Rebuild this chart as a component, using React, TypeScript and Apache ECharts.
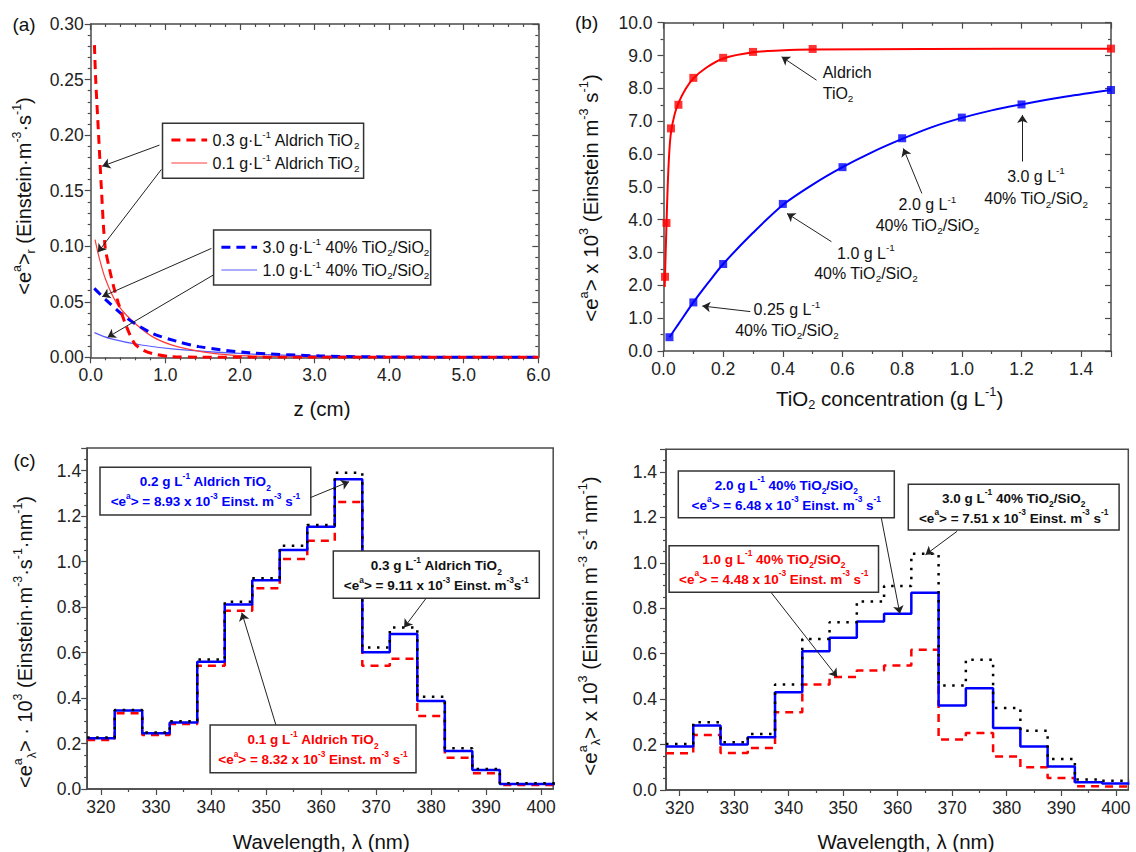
import React, { useEffect, useRef } from "react";
import * as echarts from "echarts";

const FONT = "'Liberation Sans', Arial, Helvetica, sans-serif";

// ---------- Panel (a): local absorbed radiation vs depth z ----------
const zRed03 = [0.05, 0.067, 0.106, 0.144, 0.192, 0.25, 0.31, 0.37, 0.466, 0.586, 0.7, 0.826, 1.066, 1.45, 2, 3, 4, 5, 6];
const eRed03 = [0.281, 0.25, 0.2, 0.151, 0.1, 0.08, 0.063, 0.049, 0.03, 0.0126, 0.0065, 0.0033, 0.0006, 0.0001, 0, 0, 0, 0, 0];
const zRed01 = [0.058, 0.12, 0.2, 0.346, 0.538, 0.826, 1.16, 1.64, 2.12, 2.84, 4, 5, 6];
const eRed01 = [0.106, 0.088, 0.07, 0.049, 0.034, 0.0186, 0.0096, 0.0036, 0.0012, 0.0002, 0, 0, 0];
const zBlue30 = [0.048, 0.2, 0.49, 0.826, 1.15, 1.45, 2.12, 3.08, 4.04, 5, 6];
const eBlue30 = [0.062, 0.052, 0.035, 0.0216, 0.0145, 0.0096, 0.0042, 0.0012, 0.0003, 0.0001, 0];
const zBlue10 = [0.05, 0.25, 0.68, 1.16, 2.12, 3.08, 4.52, 6];
const eBlue10 = [0.0222, 0.0171, 0.0111, 0.0072, 0.003, 0.0012, 0.0003, 0];

// ---------- Panel (b): volumetric rate vs catalyst concentration ----------
const aldrichConc = [0.005, 0.01, 0.025, 0.05, 0.1, 0.2, 0.3, 0.5, 1.5];
const aldrichRate = [2.26, 3.9, 6.78, 7.5, 8.32, 8.93, 9.11, 9.2, 9.21];
const aldrichFitConc = [0.004, 0.006, 0.01, 0.014, 0.019, 0.025, 0.037, 0.05, 0.074, 0.1, 0.142, 0.2, 0.3, 0.39, 0.5, 0.88, 1.5];
const aldrichFitRate = [1.95, 2.6, 3.85, 5.0, 6.0, 6.65, 7.2, 7.55, 7.98, 8.3, 8.62, 8.91, 9.1, 9.15, 9.18, 9.2, 9.21];
const silicaConc = [0.02, 0.1, 0.2, 0.4, 0.6, 0.8, 1.0, 1.2, 1.5];
const silicaRate = [0.42, 1.48, 2.65, 4.48, 5.6, 6.48, 7.11, 7.51, 7.95];
const silicaFitConc = [0.02, 0.05, 0.1, 0.15, 0.2, 0.3, 0.4, 0.5, 0.6, 0.7, 0.8, 0.9, 1.0, 1.1, 1.2, 1.35, 1.5];
const silicaFitRate = [0.42, 0.82, 1.48, 2.08, 2.65, 3.6, 4.45, 5.07, 5.6, 6.06, 6.46, 6.82, 7.1, 7.33, 7.51, 7.75, 7.95];

// ---------- Panels (c), (d): spectral rates, 5 nm bins ----------
const lamCenters = [320, 325, 330, 335, 340, 345, 350, 355, 360, 365, 370, 375, 380, 385, 390, 395, 400];
const lamTicks = [320, 330, 340, 350, 360, 370, 380, 390, 400];
const lamMinorTicks = [325, 335, 345, 355, 365, 375, 385, 395];
const cAld02 = [0.223, 0.345, 0.245, 0.293, 0.56, 0.812, 0.918, 1.051, 1.154, 1.362, 0.601, 0.682, 0.387, 0.167, 0.084, 0.022, 0.022];
const cAld03 = [0.226, 0.347, 0.249, 0.298, 0.57, 0.824, 0.927, 1.07, 1.161, 1.391, 0.622, 0.71, 0.406, 0.179, 0.088, 0.025, 0.025];
const cAld01 = [0.216, 0.333, 0.238, 0.286, 0.542, 0.784, 0.883, 1.012, 1.092, 1.262, 0.542, 0.573, 0.321, 0.138, 0.069, 0.018, 0.018];
const dSil20 = [0.192, 0.284, 0.2, 0.232, 0.43, 0.611, 0.67, 0.742, 0.776, 0.868, 0.372, 0.448, 0.273, 0.192, 0.103, 0.034, 0.029];
const dSil30 = [0.203, 0.298, 0.21, 0.247, 0.464, 0.665, 0.739, 0.83, 0.898, 1.04, 0.46, 0.574, 0.361, 0.261, 0.137, 0.046, 0.041];
const dSil10 = [0.162, 0.242, 0.163, 0.185, 0.342, 0.464, 0.497, 0.526, 0.548, 0.617, 0.222, 0.251, 0.148, 0.1, 0.053, 0.016, 0.015];

const zip = (xs: number[], ys: number[]) => xs.map((x, i) => [x, ys[i]]);
const stepData = (vals: number[]) => {
  const d = lamCenters.map((c, i) => [c - 2.5, vals[i]]);
  d.push([lamCenters[lamCenters.length - 1] + 2.5, vals[vals.length - 1]]);
  return d;
};

const RED = "#ff0000";
const BLUE = "#0000ff";
const AX = { color: "#4a4a4a", width: 1.5 };
const TK = { color: "#4a4a4a", width: 1.2 };
const LBL = { fontSize: 17.5, color: "#222", fontFamily: FONT };
const SMOOTH = 0.3;

function valueAxis(o: any) {
  return {
    type: "value",
    gridIndex: o.grid,
    position: o.pos,
    min: o.min,
    max: o.max,
    interval: o.interval,
    axisLine: { show: true, onZero: false, lineStyle: AX },
    axisTick: { show: true, inside: o.inside, length: 6, lineStyle: TK },
    minorTick: { show: true, splitNumber: o.minor, length: 3, lineStyle: TK },
    axisLabel: {
      show: o.labels,
      ...LBL,
      margin: o.margin,
      formatter: o.fmt,
      showMaxLabel: o.hideMax ? false : null,
    },
    splitLine: { show: false },
    minorSplitLine: { show: false },
  };
}

function lamAxes(grid: number, min: number, max: number, h: number) {
  return [
    {
      type: "value",
      gridIndex: grid,
      position: "bottom",
      min,
      max,
      axisLine: { show: true, onZero: false, lineStyle: AX },
      axisTick: { show: true, inside: false, length: 6, lineStyle: TK, customValues: lamTicks },
      axisLabel: { ...LBL, margin: 9, customValues: lamTicks, formatter: (v: number) => String(Math.round(v)) },
      splitLine: { show: false },
    },
    {
      type: "value",
      gridIndex: grid,
      position: "top",
      offset: -h,
      min,
      max,
      axisLine: { show: false },
      axisTick: { show: true, inside: true, length: 3, lineStyle: TK, customValues: lamMinorTicks },
      axisLabel: { show: false },
      splitLine: { show: false },
    },
  ];
}

function rich(fs: number, color: string, weight = "normal", lh = fs * 1.3) {
  const base = { fontSize: fs, fontFamily: FONT, fontWeight: weight, fill: color };
  return {
    n: { ...base, lineHeight: lh, verticalAlign: "middle" },
    sup: { ...base, fontSize: fs * 0.62, lineHeight: fs * 0.55, verticalAlign: "top" },
    sub: { ...base, fontSize: fs * 0.62, lineHeight: fs * 0.55, verticalAlign: "bottom" },
  };
}

function txt(x: number, y: number, text: string, fs: number, color = "#111", opts: any = {}) {
  return {
    type: "text",
    x,
    y,
    z: 60,
    rotation: opts.rotation || 0,
    style: {
      text,
      rich: rich(fs, color, opts.weight || "normal", opts.lh),
      fill: color,
      fontSize: fs,
      fontFamily: FONT,
      align: opts.align || "center",
      verticalAlign: "middle",
    },
  };
}

function box(x: number, y: number, w: number, h: number) {
  return {
    type: "rect",
    z: 55,
    shape: { x, y, width: w, height: h },
    style: { fill: "#fff", stroke: "#333", lineWidth: 1.5 },
  };
}

function sample(x1: number, x2: number, y: number, color: string, width: number, dash: any) {
  return {
    type: "line",
    z: 60,
    shape: { x1, y1: y, x2, y2: y },
    style: { stroke: color, lineWidth: width, lineDash: dash },
  };
}

function arrows(list: number[][]) {
  return {
    silent: true,
    symbol: ["none", "arrow"],
    symbolSize: 8,
    label: { show: false },
    lineStyle: { color: "#222", width: 1, type: "solid" },
    emphasis: { disabled: true },
    data: list.map((a) => [{ coord: [a[0], a[1]] }, { coord: [a[2], a[3]] }]),
  };
}

const f1 = (v: number) => v.toFixed(1);
const f2 = (v: number) => v.toFixed(2);

export default function App() {
  const ref = useRef<HTMLDivElement>(null);
  useEffect(() => {
    if (!ref.current) return;
    const chart = echarts.init(ref.current, undefined, { renderer: "svg" });

    const gA = { left: 90.7, top: 24, width: 447.6, height: 333.3 };
    const gB = { left: 663.5, top: 22.7, width: 447.5, height: 328.3 };
    const gC = { left: 87.2, top: 448, width: 466, height: 341 };
    const gD = { left: 666, top: 449.3, width: 462.3, height: 340.7 };

    const option: any = {
      animation: false,
      backgroundColor: "#fff",
      textStyle: { fontFamily: FONT },
      grid: [
        { ...gA, show: false },
        { ...gB, show: false },
        { ...gC, show: true, borderColor: "#4a4a4a", borderWidth: 1.5, backgroundColor: "transparent" },
        { ...gD, show: true, borderColor: "#4a4a4a", borderWidth: 1.5, backgroundColor: "transparent" },
      ],
      xAxis: [
        valueAxis({ grid: 0, pos: "bottom", min: 0, max: 6, interval: 1, minor: 5, inside: false, labels: true, margin: 9, fmt: f1 }),
        valueAxis({ grid: 0, pos: "top", min: 0, max: 6, interval: 1, minor: 5, inside: true, labels: false, margin: 8, fmt: f1 }),
        valueAxis({ grid: 1, pos: "bottom", min: 0, max: 1.5, interval: 0.2, minor: 2, inside: false, labels: true, margin: 9, fmt: f1, hideMax: true }),
        valueAxis({ grid: 1, pos: "top", min: 0, max: 1.5, interval: 0.2, minor: 2, inside: true, labels: false, margin: 8, fmt: f1 }),
        ...lamAxes(2, 317.5, 402.2, gC.height),
        ...lamAxes(3, 317.5, 402.3, gD.height),
      ],
      yAxis: [
        valueAxis({ grid: 0, pos: "left", min: 0, max: 0.3, interval: 0.05, minor: 5, inside: false, labels: true, margin: 7, fmt: f2 }),
        valueAxis({ grid: 0, pos: "right", min: 0, max: 0.3, interval: 0.05, minor: 5, inside: true, labels: false, margin: 8, fmt: f2 }),
        valueAxis({ grid: 1, pos: "left", min: 0, max: 10, interval: 1, minor: 2, inside: false, labels: true, margin: 11, fmt: f1 }),
        valueAxis({ grid: 1, pos: "right", min: 0, max: 10, interval: 1, minor: 2, inside: true, labels: false, margin: 8, fmt: f1 }),
        valueAxis({ grid: 2, pos: "left", min: 0, max: 1.5, interval: 0.2, minor: 4, inside: false, labels: true, margin: 6, fmt: f1, hideMax: true }),
        valueAxis({ grid: 3, pos: "left", min: 0, max: 1.5, interval: 0.2, minor: 4, inside: false, labels: true, margin: 9, fmt: f1, hideMax: true }),
      ],
      series: [
        // ---- (a)
        {
          type: "line", xAxisIndex: 0, yAxisIndex: 0, data: zip(zBlue10, eBlue10), symbol: "none",
          smooth: SMOOTH, lineStyle: { color: "#5a5aff", width: 1.2 },
        },
        {
          type: "line", xAxisIndex: 0, yAxisIndex: 0, data: zip(zRed01, eRed01), symbol: "none",
          smooth: SMOOTH, lineStyle: { color: "#ff3b3b", width: 1.2 },
        },
        {
          type: "line", xAxisIndex: 0, yAxisIndex: 0, data: zip(zBlue30, eBlue30), symbol: "none",
          smooth: SMOOTH, lineStyle: { color: BLUE, width: 3, type: [9, 6] },
        },
        {
          type: "line", xAxisIndex: 0, yAxisIndex: 0, data: zip(zRed03, eRed03), symbol: "none",
          smooth: SMOOTH, lineStyle: { color: RED, width: 3, type: [9, 6] },
          markLine: arrows([
            [0.922, 0.191, 0.154, 0.172],
            [0.946, 0.169, 0.096, 0.0945],
            [1.618, 0.098, 0.154, 0.0546],
            [1.642, 0.074, 0.226, 0.018],
          ]),
        },
        // ---- (b)
        {
          type: "line", xAxisIndex: 2, yAxisIndex: 2, data: zip(aldrichFitConc, aldrichFitRate), symbol: "none",
          smooth: SMOOTH, lineStyle: { color: RED, width: 2 },
        },
        {
          type: "scatter", xAxisIndex: 2, yAxisIndex: 2, data: zip(aldrichConc, aldrichRate),
          symbol: "rect", symbolSize: 8, itemStyle: { color: RED }, z: 3,
        },
        {
          type: "line", xAxisIndex: 2, yAxisIndex: 2, data: zip(silicaFitConc, silicaFitRate), symbol: "none",
          smooth: SMOOTH, lineStyle: { color: BLUE, width: 2 },
          markLine: arrows([
            [0.513, 8.25, 0.396, 8.96],
            [1.203, 5.77, 1.203, 7.19],
            [0.866, 4.8, 0.804, 6.17],
            [0.563, 3.33, 0.414, 4.19],
            [0.291, 1.2, 0.13, 1.37],
          ]),
        },
        {
          type: "scatter", xAxisIndex: 2, yAxisIndex: 2, data: zip(silicaConc, silicaRate),
          symbol: "rect", symbolSize: 8, itemStyle: { color: BLUE }, z: 3,
        },
        // ---- (c)
        {
          type: "line", xAxisIndex: 4, yAxisIndex: 4, data: stepData(cAld01), step: "end", symbol: "none",
          lineStyle: { color: RED, width: 2.5, type: [8, 6] },
        },
        {
          type: "line", xAxisIndex: 4, yAxisIndex: 4, data: stepData(cAld02), step: "end", symbol: "none",
          lineStyle: { color: BLUE, width: 2.5 },
        },
        {
          type: "line", xAxisIndex: 4, yAxisIndex: 4, data: stepData(cAld03), step: "end", symbol: "none",
          lineStyle: { color: "#000", width: 2.5, type: [2.5, 6.5] },
          markLine: arrows([
            [357.8, 1.279, 365.1, 1.352],
            [379.1, 0.839, 375.1, 0.71],
            [351.8, 0.2815, 345.6, 0.7755],
          ]),
        },
        // ---- (d)
        {
          type: "line", xAxisIndex: 6, yAxisIndex: 5, data: stepData(dSil10), step: "end", symbol: "none",
          lineStyle: { color: RED, width: 2.5, type: [8, 6] },
        },
        {
          type: "line", xAxisIndex: 6, yAxisIndex: 5, data: stepData(dSil20), step: "end", symbol: "none",
          lineStyle: { color: BLUE, width: 2.5 },
        },
        {
          type: "line", xAxisIndex: 6, yAxisIndex: 5, data: stepData(dSil30), step: "end", symbol: "none",
          lineStyle: { color: "#000", width: 2.5, type: [2.5, 6.5] },
          markLine: arrows([
            [357.0, 1.197, 360.4, 0.776],
            [370.9, 1.139, 365.1, 1.036],
            [336.8, 0.869, 348.9, 0.498],
          ]),
        },
      ],
      graphic: [
        // panel letters
        txt(24, 24.5, "{n|(a)}", 19),
        txt(586.6, 22.5, "{n|(b)}", 19),
        txt(24.5, 460, "{n|(c)}", 19),
        // axis titles
        txt(322, 408, "{n|z (cm)}", 20.5),
        txt(24, 196, "{n|<e}{sup|a}{n|>}{sub|r}{n| (Einstein·m}{sup|-3}{n|·s}{sup|-1}{n|)}", 20, "#111", { rotation: Math.PI / 2 }),
        txt(889.6, 398, "{n|TiO}{sub|2}{n| concentration (g L}{sup|-1}{n|)}", 20.5),
        txt(590, 198, "{n|<e}{sup|a}{n|> x 10}{sup|3}{n| (Einstein m}{sup|-3}{n| s}{sup|-1}{n|)}", 20.5, "#111", { rotation: Math.PI / 2 }),
        txt(321.3, 841.7, "{n|Wavelength, λ (nm)}", 20.5),
        txt(25, 642, "{n|<e}{sup|a}{sub|λ}{n|> · 10}{sup|3}{n| (Einstein·m}{sup|-3}{n|·s}{sup|-1}{n|·nm}{sup|-1}{n|)}", 20, "#111", { rotation: Math.PI / 2 }),
        txt(906, 841.7, "{n|Wavelength, λ (nm)}", 20.5),
        txt(589, 626, "{n|<e}{sup|a}{sub|λ}{n|> x 10}{sup|3}{n| (Einstein m}{sup|-3}{n| s}{sup|-1}{n| nm}{sup|-1}{n|)}", 20.5, "#111", { rotation: Math.PI / 2 }),
        // (a) legend boxes
        box(162.5, 123.3, 201.1, 55),
        sample(171.4, 207.1, 140, RED, 3, [9, 6]),
        sample(171.4, 207.1, 163, "#ff3b3b", 1.2, null),
        txt(212.5, 140, "{n|0.3 g·L}{sup|-1}{n| Aldrich TiO}{sub|2}", 16, "#111", { align: "left" }),
        txt(212.5, 163, "{n|0.1 g·L}{sup|-1}{n| Aldrich TiO}{sub|2}", 16, "#111", { align: "left" }),
        box(213.6, 230, 217.1, 55),
        sample(221.4, 257.1, 247.3, BLUE, 3, [9, 6]),
        sample(221.4, 257.1, 270, "#5a5aff", 1.2, null),
        txt(262.5, 247.3, "{n|3.0 g·L}{sup|-1}{n| 40% TiO}{sub|2}{n|/SiO}{sub|2}", 16, "#111", { align: "left" }),
        txt(262.5, 270, "{n|1.0 g·L}{sup|-1}{n| 40% TiO}{sub|2}{n|/SiO}{sub|2}", 16, "#111", { align: "left" }),
        // (b) annotations
        txt(822.7, 72.7, "{n|Aldrich}", 16, "#111", { align: "left" }),
        txt(822.7, 93.3, "{n|TiO}{sub|2}", 16, "#111", { align: "left" }),
        txt(1036, 187.5, "{n|3.0 g L}{sup|-1}\n{n|40% TiO}{sub|2}{n|/SiO}{sub|2}", 16, "#111", { lh: 21.6 }),
        txt(927.4, 215, "{n|2.0 g L}{sup|-1}\n{n|40% TiO}{sub|2}{n|/SiO}{sub|2}", 16, "#111", { lh: 20.5 }),
        txt(865.9, 263.3, "{n|1.0 g L}{sup|-1}\n{n|40% TiO}{sub|2}{n|/SiO}{sub|2}", 16, "#111", { lh: 20.5 }),
        txt(786.9, 320, "{n|0.25 g L}{sup|-1}\n{n|40% TiO}{sub|2}{n|/SiO}{sub|2}", 16, "#111", { lh: 20.5 }),
        // (c) boxes
        box(100, 467.3, 210.8, 47.7),
        txt(205.4, 491.8, "{n|0.2 g L}{sup|-1}{n| Aldrich TiO}{sub|2}\n{n|<e}{sup|a}{n|> = 8.93 x 10}{sup|-3}{n| Einst. m}{sup|-3}{n| s}{sup|-1}", 13.5, BLUE, { weight: "bold", lh: 20 }),
        box(333.3, 551, 206, 47.3),
        txt(436.3, 575.5, "{n|0.3 g L}{sup|-1}{n| Aldrich TiO}{sub|2}\n{n|<e}{sup|a}{n|> = 9.11 x 10}{sup|-3}{n| Einst. m}{sup|-3}{n|s}{sup|-1}", 13.5, "#111", { weight: "bold", lh: 20 }),
        box(210.1, 725, 205.9, 47.7),
        txt(313, 749.7, "{n|0.1 g L}{sup|-1}{n| Aldrich TiO}{sub|2}\n{n|<e}{sup|a}{n|> = 8.32 x 10}{sup|-3}{n| Einst. m}{sup|-3}{n| s}{sup|-1}", 13.5, RED, { weight: "bold", lh: 20 }),
        // (d) boxes
        box(678.3, 471, 216, 46.7),
        txt(786.3, 495, "{n|2.0 g L}{sup|-1}{n| 40% TiO}{sub|2}{n|/SiO}{sub|2}\n{n|<e}{sup|a}{n|> = 6.48 x 10}{sup|-3}{n| Einst. m}{sup|-3}{n| s}{sup|-1}", 13.5, BLUE, { weight: "bold", lh: 20 }),
        box(908.3, 484.3, 210.8, 45.7),
        txt(1013.7, 508.3, "{n|3.0 g L}{sup|-1}{n| 40% TiO}{sub|2}{n|/SiO}{sub|2}\n{n|<e}{sup|a}{n|> = 7.51 x 10}{sup|-3}{n| Einst. m}{sup|-3}{n| s}{sup|-1}", 13.5, "#111", { weight: "bold", lh: 20 }),
        box(669.1, 545.7, 209.4, 46.6),
        txt(773.8, 569.3, "{n|1.0 g L}{sup|-1}{n| 40% TiO}{sub|2}{n|/SiO}{sub|2}\n{n|<e}{sup|a}{n|> = 4.48 x 10}{sup|-3}{n| Einst. m}{sup|-3}{n| s}{sup|-1}", 13.5, RED, { weight: "bold", lh: 20 }),
      ],
    };

    chart.setOption(option);
    return () => chart.dispose();
  }, []);

  return (
    <div
      ref={ref}
      style={{ position: "absolute", left: 0, top: 0, width: 1136, height: 852, background: "#fff" }}
    />
  );
}
